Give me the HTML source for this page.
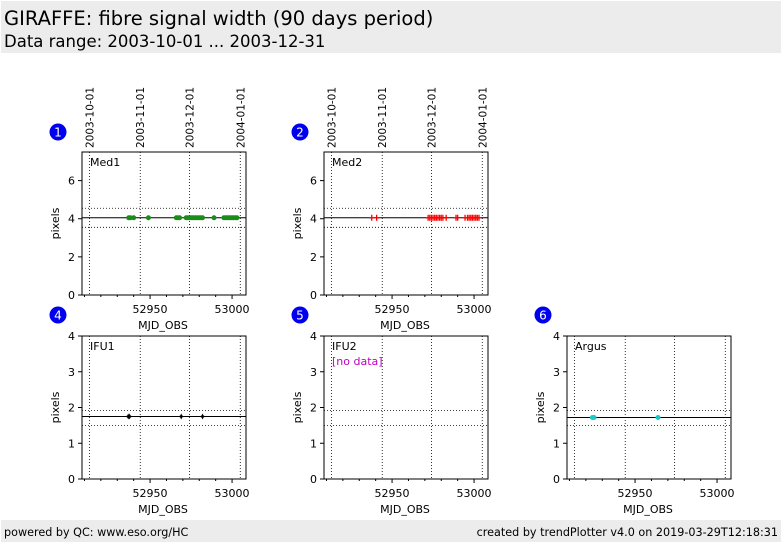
<!DOCTYPE html>
<html><head><meta charset="utf-8"><style>
body{margin:0;width:782px;height:542px;background:#fff;font-family:"DejaVu Sans","Liberation Sans",sans-serif;overflow:hidden;position:relative}
.hdr{position:absolute;left:1px;top:1px;width:780px;height:52px;background:#ececec}
.t1{position:absolute;left:3px;top:6px;font-size:19.5px;color:#000}
.t2{position:absolute;left:3px;top:31px;font-size:16.5px;color:#000}
.ftr{position:absolute;left:1px;top:520px;width:780px;height:22px;background:#ececec;font-size:11.2px}
.ftr span{position:absolute;top:6px}
svg{position:absolute;left:0;top:0}
</style></head><body>
<div class="hdr">
<div class="t1">GIRAFFE: fibre signal width (90 days period)</div>
<div class="t2">Data range: 2003-10-01 ... 2003-12-31</div></div>
<div class="ftr"><span style="left:3px">powered by QC: www.eso.org/HC</span><span style="right:3px">created by trendPlotter v4.0 on 2019-03-29T12:18:31</span></div>
<svg id="c" width="782" height="542"></svg>
<script>
const med1X=[52937,52938,52940,52949,52966,52967,52968,52972,52973,52974,52975,52976,52977,52978,52979,52980,52981,52982,52989,52995,52996,52997,52998,52999,53000,53001,53002,53003];
const med2X=[52937.6,52940.6,52972,52973,52974,52975,52976,52977,52978,52979,52980,52981,52983,52989,52990,52994.5,52996,52997,52998,52999,53000,53001,53002,53003];
const ifu1X=[52936.7,52937.5,52969,52982];
const argusX=[52924,52925,52964];
const med1Y=4.05, med2Y=4.05, ifu1Y=1.75, argusY=1.72;
const dateTicks=[52913,52944,52974,53005];
const dateLabels=["2003-10-01","2003-11-01","2003-12-01","2004-01-01"];
const panels=[
 {n:"1",name:"Med1",x:82,y:152,ymax:7.5,yt:[0,2,4,6],ref:[4.05,4.55,3.55],xs:med1X,yv:med1Y,col:"#1a8c1a",mk:"dot",dates:true},
 {n:"2",name:"Med2",x:324,y:152,ymax:7.5,yt:[0,2,4,6],ref:[4.05,4.55,3.55],xs:med2X,yv:med2Y,col:"#ff0000",mk:"plus",dates:true},
 {n:"4",name:"IFU1",x:82,y:336,ymax:4,yt:[0,1,2,3,4],ref:[1.75,1.92,1.5],xs:ifu1X,yv:ifu1Y,col:"#000",mk:"star"},
 {n:"5",name:"IFU2",x:324,y:336,ymax:4,yt:[0,1,2,3,4],ref:[null,1.92,1.5],xs:[],yv:0,col:"#000",mk:"dot",nodata:true},
 {n:"6",name:"Argus",x:567,y:336,ymax:4,yt:[0,1,2,3,4],ref:[1.72,1.92,1.5],xs:argusX,yv:argusY,col:"#1fc8c8",mk:"dot"}];
const W=164,H=143,X0=52908.5,X1=53008.5;
const svg=document.getElementById('c');const NS="http://www.w3.org/2000/svg";
function el(t,a,p){const e=document.createElementNS(NS,t);for(const k in a)e.setAttribute(k,a[k]);(p||svg).appendChild(e);return e;}
panels.forEach(p=>{
 const g=el('g',{});
 
 
 const sx=v=>p.x+(v-X0)/(X1-X0)*W, sy=v=>p.y+H-v/p.ymax*H;
 dateTicks.forEach((d,i)=>{el('line',{x1:sx(d),x2:sx(d),y1:p.y,y2:p.y+H,stroke:"#000","stroke-width":0.8,"stroke-dasharray":"1,2"},g);
  if(p.dates){const t=el('text',{x:0,y:0,"font-size":10.5,transform:`translate(${sx(d)+4},${p.y-4}) rotate(-90)`,fill:"#000"},g);t.textContent=dateLabels[i];
   }});
 p.ref.forEach((r,i)=>{if(r==null)return;el('line',{x1:p.x,x2:p.x+W,y1:sy(r),y2:sy(r),stroke:"#000","stroke-width":i?0.8:1,"stroke-dasharray":i?"1,2":"none"},g);});
 el('rect',{x:p.x,y:p.y,width:W,height:H,fill:"none",stroke:"#000","stroke-width":1},g);
 p.yt.forEach(v=>{el('line',{x1:p.x-4,x2:p.x,y1:sy(v),y2:sy(v),stroke:"#000"},g);
  const t=el('text',{x:p.x-7,y:sy(v)+4,"font-size":11,"text-anchor":"end"},g);t.textContent=v;});
 for(let v=52910;v<=53000;v+=10){const big=v%50==0;el('line',{x1:sx(v),x2:sx(v),y1:p.y+H,y2:p.y+H+(big?4:2),stroke:"#000"},g);
  if(big){const t=el('text',{x:sx(v),y:p.y+H+18,"font-size":11,"text-anchor":"middle"},g);t.textContent=v;}}
 const xl=el('text',{x:p.x+W/2-1,y:p.y+H+34,"font-size":11,"text-anchor":"middle"},g);xl.textContent="MJD_OBS";
 
 const yl=el('text',{x:0,y:0,"font-size":11,"text-anchor":"middle",transform:`translate(${p.x-23},${p.y+H/2}) rotate(-90)`},g);yl.textContent="pixels";
 
 const nm=el('text',{x:p.x+8,y:p.y+14,"font-size":11},g);nm.textContent=p.name;
 
 if(p.nodata){const nd=el('text',{x:p.x+8,y:p.y+29,"font-size":11,fill:"#c000c0"},g);nd.textContent="[no data]";}
 const cy=p.dates?p.y-20:p.y-21;
 el('circle',{cx:p.x-24,cy:cy,r:8.5,fill:"#0000ee"},g);
 const bt=el('text',{x:p.x-24,y:cy+4.5,"font-size":12,fill:"#fff","text-anchor":"middle"},g);bt.textContent=p.n;
 p.xs.forEach(v=>{const X=sx(v),Y=sy(p.yv);let m;
  if(p.mk=="dot")m=el('circle',{cx:X,cy:Y,r:2.5,fill:p.col},g);
  else if(p.mk=="plus")m=el('path',{d:`M${X-2.5} ${Y}H${X+2.5}M${X} ${Y-3}V${Y+3}`,stroke:p.col,"stroke-width":1.3},g);
  else m=el('path',{d:`M${X} ${Y-3}L${X+1} ${Y-1}L${X+3} ${Y}L${X+1} ${Y+1}L${X} ${Y+3}L${X-1} ${Y+1}L${X-3} ${Y}L${X-1} ${Y-1}Z`,fill:p.col},g);
  
  });
});
</script>
</body></html>
